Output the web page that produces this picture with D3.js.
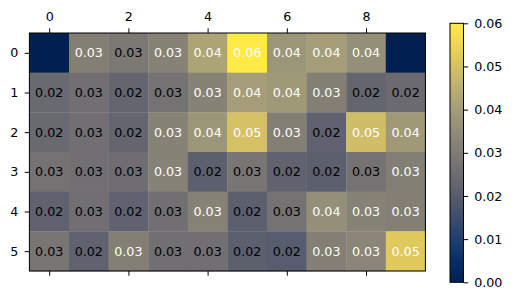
<!DOCTYPE html>
<html>
<head>
<meta charset="utf-8">
<script src="https://cdn.jsdelivr.net/npm/d3@7"></script>
<style>
  body { margin: 0; background: #fff; }
  text { font-family: "DejaVu Sans", sans-serif; }
</style>
</head>
<body>
<svg id="drawing_region"></svg>
<script>
// heatmap values, row by row (null = empty cell drawn at 0 without label)
const rows = [0, 1, 2, 3, 4, 5];
const cols = [0, 1, 2, 3, 4, 5, 6, 7, 8, 9];
const row0 = [null, 0.031, 0.029, 0.032, 0.042, 0.060, 0.038, 0.040, 0.036, null];
const row1 = [0.024, 0.026, 0.023, 0.027, 0.032, 0.040, 0.039, 0.031, 0.023, 0.0245];
const row2 = [0.024, 0.026, 0.023, 0.032, 0.038, 0.050, 0.031, 0.022, 0.049, 0.039];
const row3 = [0.027, 0.026, 0.0255, 0.032, 0.021, 0.028, 0.022, 0.021, 0.027, 0.031];
const row4 = [0.022, 0.026, 0.022, 0.026, 0.032, 0.021, 0.027, 0.036, 0.032, 0.031];
const row5 = [0.028, 0.022, 0.031, 0.026, 0.026, 0.021, 0.020, 0.031, 0.033, 0.052];
const values = [row0, row1, row2, row3, row4, row5];
const xTicks = [0, 2, 4, 6, 8];
const cbarTicks = [0.00, 0.01, 0.02, 0.03, 0.04, 0.05, 0.06];

const width = 513, height = 300;
const fs = 12.7;

const svg = d3.select('#drawing_region')
    .attr('width', width)
    .attr('height', height);

const cells = [];
values.forEach((r, i) => r.forEach((v, j) => cells.push({ row: i, col: j, v: v })));

// scales
const xscale = d3.scaleBand().domain(cols).range([29.4, 425.4]);
const yscale = d3.scaleBand().domain(rows).range([33, 271]);
const color = d3.scaleSequential(d3.interpolateCividis).domain([0, 0.06]);
const fmt = d3.format('.2f');

const g = svg.append('g');

g.selectAll('rect')
    .data(cells)
    .enter()
    .append('rect')
    .attr('x', d => xscale(d.col))
    .attr('y', d => yscale(d.row))
    .attr('width', xscale.bandwidth() + 0.3)
    .attr('height', yscale.bandwidth() + 0.3)
    .attr('fill', d => color(d.v == null ? 0 : d.v));

g.selectAll('text.val')
    .data(cells.filter(d => d.v != null))
    .enter()
    .append('text')
    .attr('class', 'val')
    .attr('x', d => xscale(d.col) + xscale.bandwidth() / 2)
    .attr('y', d => yscale(d.row) + yscale.bandwidth() / 2)
    .attr('text-anchor', 'middle')
    .attr('dominant-baseline', 'central')
    .attr('font-size', fs)
    .attr('fill', d => d.v > 0.03 ? 'white' : 'black')
    .text(d => fmt(d.v));

// frame
svg.append('rect')
    .attr('x', xscale.range()[0])
    .attr('y', yscale.range()[0])
    .attr('width', xscale.range()[1] - xscale.range()[0])
    .attr('height', yscale.range()[1] - yscale.range()[0])
    .attr('fill', 'none')
    .attr('stroke', 'black')
    .attr('stroke-width', 1);

// axes: point scale for tick centres
const xpos = d3.scalePoint().domain(cols).range([xscale(0) + xscale.bandwidth() / 2, xscale(9) + xscale.bandwidth() / 2]);
const ypos = d3.scalePoint().domain(rows).range([yscale(0) + yscale.bandwidth() / 2, yscale(5) + yscale.bandwidth() / 2]);

function styleAxis(sel) {
    sel.select('.domain').remove();
    sel.selectAll('text').attr('font-size', fs).attr('fill', 'black').style('font-family', '"DejaVu Sans", sans-serif');
    sel.selectAll('line').attr('stroke', 'black');
}

svg.append('g')
    .attr('transform', `translate(0, ${yscale.range()[0]})`)
    .call(d3.axisTop(xpos).tickValues(xTicks).tickSize(4.7).tickPadding(7.3))
    .call(styleAxis);

svg.append('g')
    .attr('transform', `translate(0, ${yscale.range()[1]})`)
    .call(d3.axisBottom(xpos).tickValues(xTicks).tickSize(4.7).tickFormat(''))
    .call(styleAxis);

svg.append('g')
    .attr('transform', `translate(${xscale.range()[0]}, 0)`)
    .call(d3.axisLeft(ypos).tickSize(4.7).tickPadding(6.3))
    .call(styleAxis);

// colorbar
const cb = { x: 450, y: 23.3, w: 13.5, h: 259 };
const cscale = d3.scaleLinear().domain([0, 0.06]).range([cb.y + cb.h, cb.y]);

const grad = svg.append('defs').append('linearGradient')
    .attr('id', 'cbgrad')
    .attr('x1', 0).attr('y1', 1).attr('x2', 0).attr('y2', 0);
d3.range(0, 1.0001, 0.02).forEach(t => {
    grad.append('stop')
        .attr('offset', t)
        .attr('stop-color', d3.interpolateCividis(t));
});

svg.append('rect')
    .attr('x', cb.x).attr('y', cb.y)
    .attr('width', cb.w).attr('height', cb.h)
    .attr('fill', 'url(#cbgrad)')
    .attr('stroke', 'black')
    .attr('stroke-width', 1);

svg.append('g')
    .attr('transform', `translate(${cb.x + cb.w}, 0)`)
    .call(d3.axisRight(cscale).tickValues(cbarTicks).tickFormat(fmt).tickSize(4.7).tickPadding(6))
    .call(styleAxis);
</script>
</body>
</html>
